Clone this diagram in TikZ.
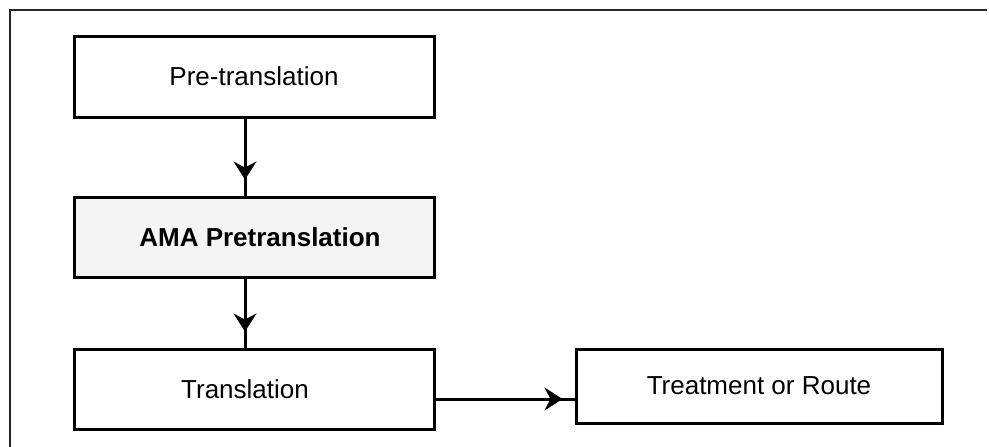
\documentclass[tikz,border=0pt]{standalone}
\usepackage{fontspec}
\setmainfont{Liberation Sans}
\usetikzlibrary{arrows.meta,decorations.markings}
\definecolor{boxgray}{HTML}{F4F4F4}
\begin{document}
\begin{tikzpicture}[x=1pt,y=-1pt,
  box/.style={draw=black,line width=3pt,rectangle,minimum width=360pt,minimum height=80pt,inner sep=0pt,
    font=\fontsize{26}{30}\selectfont},
  conn/.style={line width=3pt,postaction={decorate},
    decoration={markings,mark=at position #1 with {\arrow{Stealth[length=18pt,width=23pt,inset=6pt]}}}},
  frameline/.style={line width=1.3pt,draw=black!85}
]
\useasboundingbox (0,0) rectangle (989,447);
\draw[frameline] (10,447) -- (10,10) -- (987,10);
\node[box,minimum height=81pt] (pre) at (254,76.5) {Pre-translation};
\node[box,fill=boxgray,font=\fontsize{26}{30}\selectfont\bfseries] (ama) at (254,237) {\hspace*{12pt}AMA Pretranslation};
\node[box] (tr) at (254,389) {\hspace*{-18pt}Translation};
\node[box,minimum width=366pt,minimum height=74pt] (treat) at (759,386) {Treatment or Route};
\draw[conn=-16pt] ([xshift=-9pt]pre.south) -- ([xshift=-9pt]ama.north);
\draw[conn=-16pt] ([xshift=-9pt]ama.south) -- ([xshift=-9pt]tr.north);
\draw[conn=-12pt] ([yshift=-10pt]tr.east) -- ([yshift=-10pt]tr.east -| treat.west);
\end{tikzpicture}
\end{document}
